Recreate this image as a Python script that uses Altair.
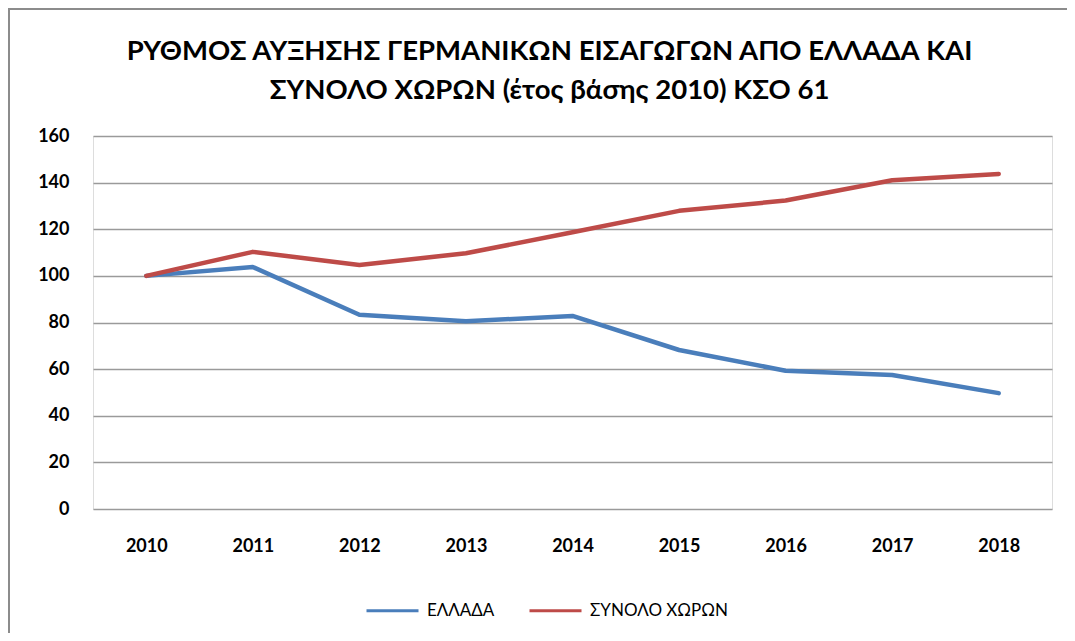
import altair as alt
import pandas as pd

years = ["2010", "2011", "2012", "2013", "2014", "2015", "2016", "2017", "2018"]
ellada = [100, 103.8, 83.3, 80.5, 82.8, 68.2, 59.3, 57.5, 49.7]
synolo = [100, 110.3, 104.7, 109.7, 118.7, 127.9, 132.3, 141.0, 143.7]
series_names = ["ΕΛΛΑΔΑ", "ΣΥΝΟΛΟ ΧΩΡΩΝ"]
series_colors = ["#4A7EBB", "#BE4B48"]
y_ticks = [0, 20, 40, 60, 80, 100, 120, 140, 160]
title_lines = ["ΡΥΘΜΟΣ ΑΥΞΗΣΗΣ ΓΕΡΜΑΝΙΚΩΝ ΕΙΣΑΓΩΓΩΝ ΑΠΌ ΕΛΛΑΔΑ ΚΑΙ",
               "ΣΥΝΟΛΟ ΧΩΡΩΝ (έτος βάσης 2010) ΚΣΟ 61"]

rows = []
for i, yr in enumerate(years):
    rows.append({"year": yr, "series": series_names[0], "value": ellada[i], "order": 0})
    rows.append({"year": yr, "series": series_names[1], "value": synolo[i], "order": 1})
df = pd.DataFrame(rows)

FONT = "Lato"
W, H = 959, 373
PL, PT = 85, 128
PR = 1059 - PL - W
PB = 625 - PT - H

lines = alt.Chart(df).mark_line(strokeWidth=4.5, strokeCap="round", strokeJoin="round").encode(
    x=alt.X("year:N", sort=years, scale=alt.Scale(type="point", padding=0.5),
            axis=alt.Axis(title=None, labelAngle=0, ticks=False, domain=False, grid=False,
                          labelFont=FONT, labelFontSize=18, labelFontWeight="bold",
                          labelColor="#000000", labelPadding=28)),
    y=alt.Y("value:Q", scale=alt.Scale(domain=[0, 160], nice=False),
            axis=alt.Axis(title=None, values=y_ticks, ticks=False, domain=False,
                          grid=True, gridColor="#9A9A9A", gridWidth=1.6,
                          labelFont=FONT, labelFontSize=18, labelFontWeight="bold",
                          labelColor="#000000", labelPadding=24)),
    color=alt.Color("series:N", scale=alt.Scale(domain=series_names, range=series_colors),
                    legend=alt.Legend(title=None, orient="none", direction="horizontal",
                                      legendX=272, legendY=447, symbolType="stroke",
                                      symbolSize=2704, symbolStrokeWidth=3,
                                      labelFont=FONT, labelFontSize=17, labelColor="#000000",
                                      labelOffset=7, columnPadding=28, padding=0)),
    order="order:Q",
)

border = alt.Chart(alt.Data(values=[{"a": 1}])).mark_rule(color="#8C8C8C", strokeWidth=2).encode(
    x=alt.value(-PL + 1), y=alt.value(-PT), y2=alt.value(H + PB)
)
border_top = alt.Chart(alt.Data(values=[{"a": 1}])).mark_rule(color="#8C8C8C", strokeWidth=2).encode(
    x=alt.value(-PL), x2=alt.value(W + PR), y=alt.value(-PT + 1)
)

chart = alt.layer(lines, border, border_top).properties(
    width=W, height=H,
    autosize=alt.AutoSizeParams(type="none"),
    padding={"left": PL, "top": PT, "right": PR, "bottom": PB},
    title=alt.TitleParams(text=title_lines, anchor="middle", frame="group", dx=-23,
                          font=FONT, fontSize=27.5, fontWeight="bold", color="#000000",
                          lineHeight=39, offset=-97),
).configure_view(stroke=None).configure(background="#FFFFFF")

chart.save("out.html", embed_options={"renderer": "svg", "actions": False})
